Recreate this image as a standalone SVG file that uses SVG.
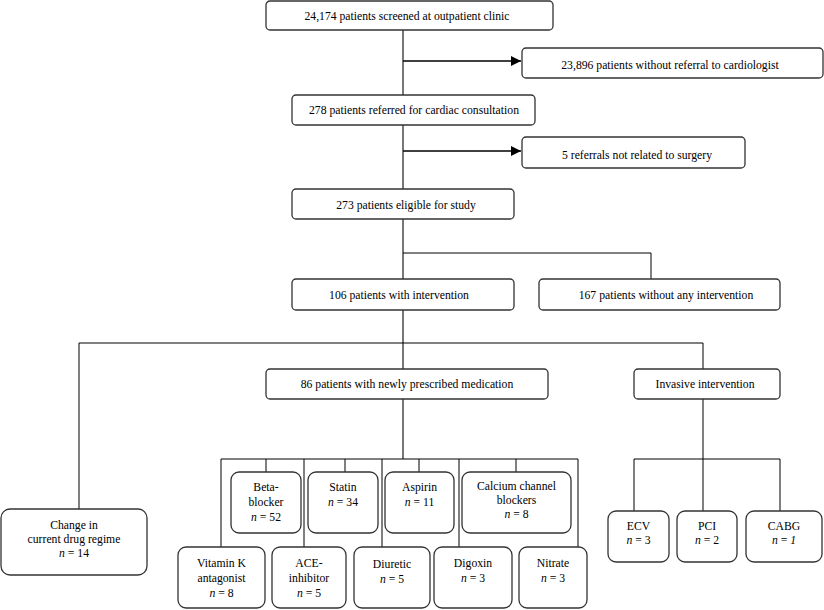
<svg xmlns="http://www.w3.org/2000/svg" width="824" height="610" viewBox="0 0 824 610" font-family="'Liberation Serif', 'Times New Roman', 'DejaVu Serif', serif">
<defs>
<marker id="arr" viewBox="0 0 10 10" refX="10" refY="5" markerWidth="10" markerHeight="10" markerUnits="userSpaceOnUse" orient="auto">
<path d="M0,0 L10,5 L0,10 z" fill="#000"/>
</marker>
</defs>
<style>
.b{fill:#fff;stroke:#333;stroke-width:1.3}
text{font-family:'Liberation Serif','Times New Roman','DejaVu Serif',serif;font-size:11.7px;fill:#000;text-anchor:middle}
.i{font-style:italic}
.main{stroke:#777;stroke-width:2;fill:none}
.thin{stroke:#000;stroke-width:1;fill:none}
.ar{stroke:#000;stroke-width:1.5;fill:none;marker-end:url(#arr)}
</style>
<g id="connectors">
<path class="main" d="M403 30V95M403 125V189M403 219V279M403 310V369M403 399V459"/>
<path class="ar" d="M403 61H521"/>
<path class="ar" d="M403 151H521"/>
<path class="thin" d="M403 253H651V279"/>
<path class="thin" d="M79 509V343H703V369"/>
<path class="thin" d="M221 459H578M221 459V547M266 459V472M304 459V547M345 459V472M382 459V547M419 459V472M459 459V547M516 459V472M578 459V547"/>
<path class="thin" d="M703 399V511M634 459H780M634 459V511M780 459V511"/>
</g>
<g id="n1"><rect class="b" x="266" y="1" width="287" height="29" rx="4"/><text x="407" y="20">24,174 patients screened at outpatient clinic</text></g>
<g id="n2"><rect class="b" x="522" y="48" width="301" height="30" rx="4"/><text x="670" y="69">23,896 patients without referral to cardiologist</text></g>
<g id="n3"><rect class="b" x="292" y="95" width="243" height="30" rx="4"/><text x="414" y="114">278 patients referred for cardiac consultation</text></g>
<g id="n4"><rect class="b" x="522" y="137" width="223" height="31" rx="4"/><text x="637" y="159">5 referrals not related to surgery</text></g>
<g id="n5"><rect class="b" x="292" y="189" width="222" height="30" rx="4"/><text x="406" y="209">273 patients eligible for study</text></g>
<g id="n6"><rect class="b" x="292" y="279" width="222" height="31" rx="4"/><text x="399" y="299">106 patients with intervention</text></g>
<g id="n7"><rect class="b" x="539" y="279" width="241" height="31" rx="4"/><text x="666" y="299">167 patients without any intervention</text></g>
<g id="n8"><rect class="b" x="266" y="369" width="282" height="30" rx="4"/><text x="407" y="388">86 patients with newly prescribed medication</text></g>
<g id="n9"><rect class="b" x="634" y="369" width="146" height="30" rx="4"/><text x="705" y="388">Invasive intervention</text></g>
<g id="n10"><rect class="b" x="1" y="509" width="146" height="66" rx="9"/><text x="74" y="529">Change in</text><text x="74" y="543">current drug regime</text><text x="74" y="557"><tspan class="i">n</tspan> = 14</text></g>
<g id="n11"><rect class="b" x="231" y="472" width="70" height="61" rx="8"/><text x="266" y="491">Beta-</text><text x="266" y="506">blocker</text><text x="266" y="521"><tspan class="i">n</tspan> = 52</text></g>
<g id="n12"><rect class="b" x="308" y="472" width="70" height="61" rx="8"/><text x="343" y="491">Statin</text><text x="343" y="506"><tspan class="i">n</tspan> = 34</text></g>
<g id="n13"><rect class="b" x="385" y="472" width="69" height="61" rx="8"/><text x="419.5" y="491">Aspirin</text><text x="419.5" y="506"><tspan class="i">n</tspan> = 11</text></g>
<g id="n14"><rect class="b" x="462" y="472" width="109" height="61" rx="8"/><text x="516.5" y="490">Calcium channel</text><text x="516.5" y="504">blockers</text><text x="516.5" y="518"><tspan class="i">n</tspan> = 8</text></g>
<g id="n15"><rect class="b" x="178" y="547" width="87" height="61" rx="8"/><text x="221.5" y="567">Vitamin K</text><text x="221.5" y="582">antagonist</text><text x="221.5" y="597"><tspan class="i">n</tspan> = 8</text></g>
<g id="n16"><rect class="b" x="272" y="547" width="74" height="61" rx="8"/><text x="309" y="567">ACE-</text><text x="309" y="582">inhibitor</text><text x="309" y="597"><tspan class="i">n</tspan> = 5</text></g>
<g id="n17"><rect class="b" x="354" y="547" width="76" height="61" rx="8"/><text x="392" y="568">Diuretic</text><text x="392" y="583"><tspan class="i">n</tspan> = 5</text></g>
<g id="n18"><rect class="b" x="434" y="547" width="78" height="61" rx="8"/><text x="473" y="567">Digoxin</text><text x="473" y="582"><tspan class="i">n</tspan> = 3</text></g>
<g id="n19"><rect class="b" x="519" y="547" width="68" height="61" rx="8"/><text x="553" y="567">Nitrate</text><text x="553" y="582"><tspan class="i">n</tspan> = 3</text></g>
<g id="n20"><rect class="b" x="608" y="511" width="61" height="51" rx="8"/><text x="638.5" y="530">ECV</text><text x="638.5" y="544"><tspan class="i">n</tspan> = 3</text></g>
<g id="n21"><rect class="b" x="677" y="511" width="60" height="51" rx="8"/><text x="707" y="530">PCI</text><text x="707" y="544"><tspan class="i">n</tspan> = 2</text></g>
<g id="n22"><rect class="b" x="746" y="511" width="76" height="51" rx="8"/><text x="784" y="530">CABG</text><text x="784" y="544"><tspan class="i">n</tspan> = <tspan class="i">1</tspan></text></g>
</svg>
